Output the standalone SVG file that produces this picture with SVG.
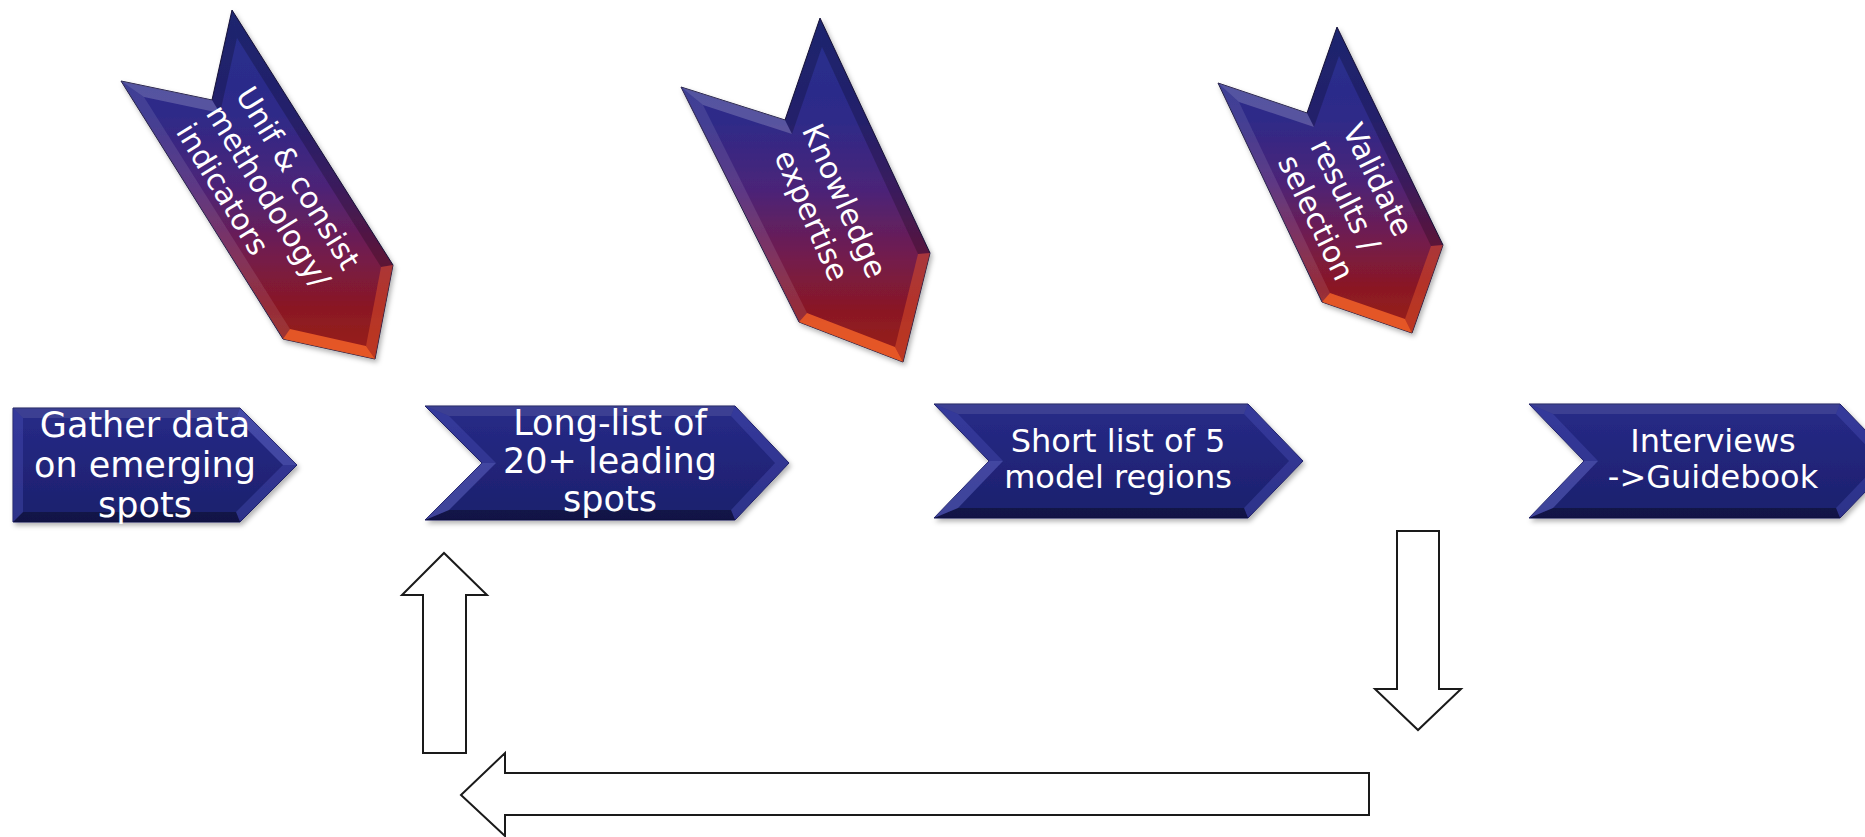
<svg xmlns="http://www.w3.org/2000/svg" width="1865" height="837" viewBox="0 0 1865 837">
  <defs>
    <linearGradient id="diag" x1="0" y1="0" x2="0" y2="1">
      <stop offset="0" stop-color="#26308E"/>
      <stop offset="0.3" stop-color="#2E2A88"/>
      <stop offset="0.5" stop-color="#4B2478"/>
      <stop offset="0.7" stop-color="#731C4C"/>
      <stop offset="0.85" stop-color="#8A1824"/>
      <stop offset="1" stop-color="#9A2018"/>
    </linearGradient>
    <linearGradient id="navy" x1="0" y1="0" x2="0" y2="1">
      <stop offset="0" stop-color="#272B88"/>
      <stop offset="1" stop-color="#1C1F6C"/>
    </linearGradient>
    <filter id="sh" x="-10%" y="-10%" width="130%" height="130%">
      <feDropShadow dx="2" dy="3" stdDeviation="2.5" flood-color="#000" flood-opacity="0.3"/>
    </filter>
  </defs>
  <style>
    .dg { fill: url(#diag); stroke: #1a1440; stroke-width: 1; stroke-linejoin: round; }
    .hz { fill: url(#navy); stroke: #15175a; stroke-width: 1; stroke-linejoin: round; }
    .lt { fill: #ffffff; fill-opacity: 0.2; }
    .lt2 { fill: #ffffff; fill-opacity: 0.1; }
    .dk { fill: #000000; fill-opacity: 0.22; }
    .dk2 { fill: #000000; fill-opacity: 0.35; }
    .or1 { fill: #FF6A2A; fill-opacity: 0.75; }
    .or2 { fill: #E0502A; fill-opacity: 0.5; }
    .hl { fill: #6A70D0; fill-opacity: 0.45; }
    .hl2 { fill: #5055C0; fill-opacity: 0.35; }
    .t { font-family: "DejaVu Sans", Verdana, sans-serif; fill: #ffffff; }
    .blk { fill: #ffffff; stroke: #1a1a1a; stroke-width: 2; stroke-linejoin: miter; }
  </style>
  <rect width="1865" height="837" fill="#ffffff"/>

  <!-- Diagonal chevron 1 -->
  <g id="chev-unif">
    <g filter="url(#sh)">
      <polygon class="dg" points="232,10 393,265 375,359 283,339 121,81 212,100"/>
    </g>
    <polygon class="dk" points="232,10 393,265 381,267 237,38"/>
    <polygon class="or2" points="393,265 375,359 366,346 381,267"/>
    <polygon class="or1" points="375,359 283,339 290,329 366,346"/>
    <polygon class="lt2" points="283,339 121,81 144,97 290,329"/>
    <polygon class="lt" points="121,81 212,100 220,113 144,97"/>
    <polygon class="dk" points="212,100 232,10 237,38 220,113"/>
    <g class="t" font-size="30" transform="translate(235,95) rotate(58.5)">
      <text x="0" y="0">Unif &amp; consist</text>
      <text x="0" y="35">methodology/</text>
      <text x="0" y="70">indicators</text>
    </g>
  </g>

  <!-- Diagonal chevron 2 -->
  <g id="chev-knowledge">
    <g filter="url(#sh)">
      <polygon class="dg" points="820,18 930,253 903,362 799,322 681,87 785,120"/>
    </g>
    <polygon class="dk" points="820,18 930,253 918,254 822,47"/>
    <polygon class="or2" points="930,253 903,362 895,347 918,254"/>
    <polygon class="or1" points="903,362 799,322 807,313 895,347"/>
    <polygon class="lt2" points="799,322 681,87 703,105 807,313"/>
    <polygon class="lt" points="681,87 785,120 792,134 703,105"/>
    <polygon class="dk" points="785,120 820,18 822,47 792,134"/>
    <g class="t" font-size="30" text-anchor="middle" transform="translate(835,205) rotate(66)">
      <text x="0" y="0">Knowledge</text>
      <text x="0" y="36">expertise</text>
    </g>
  </g>

  <!-- Diagonal chevron 3 -->
  <g id="chev-validate">
    <g filter="url(#sh)">
      <polygon class="dg" points="1337,27 1443,245 1412,333 1322,302 1218,83 1307,113"/>
    </g>
    <polygon class="dk" points="1337,27 1443,245 1431,246 1339,56"/>
    <polygon class="or2" points="1443,245 1412,333 1405,319 1431,246"/>
    <polygon class="or1" points="1412,333 1322,302 1330,293 1405,319"/>
    <polygon class="lt2" points="1322,302 1218,83 1239,102 1330,293"/>
    <polygon class="lt" points="1218,83 1307,113 1314,127 1239,102"/>
    <polygon class="dk" points="1307,113 1337,27 1339,56 1314,127"/>
    <g class="t" font-size="30" transform="translate(1342,130) rotate(64)">
      <text x="0" y="0">Validate</text>
      <text x="0" y="36">results /</text>
      <text x="0" y="72">selection</text>
    </g>
  </g>

  <!-- Horizontal chevron: Gather -->
  <g id="node-gather">
    <g filter="url(#sh)">
      <polygon class="hz" points="13,408 240,408 297,465 240,522 13,522"/>
    </g>
    <polygon class="lt2" points="13,408 240,408 236,418 23,418"/>
    <polygon class="hl" points="240,408 297,465 283,465 236,418"/>
    <polygon class="hl2" points="297,465 240,522 236,512 283,465"/>
    <polygon class="dk2" points="240,522 13,522 23,512 236,512"/>
    <polygon class="hl2" points="13,522 13,408 23,418 23,512"/>
    <g class="t" font-size="35" text-anchor="middle">
      <text x="145" y="437">Gather data</text>
      <text x="145" y="477">on emerging</text>
      <text x="145" y="517">spots</text>
    </g>
  </g>

  <!-- Horizontal chevron: Long-list -->
  <g id="node-longlist">
    <g filter="url(#sh)">
      <polygon class="hz" points="425,406 735,406 789,463 735,520 425,520 482,463"/>
    </g>
    <polygon class="lt2" points="425,406 735,406 731,416 449,416"/>
    <polygon class="hl2" points="735,406 789,463 775,463 731,416"/>
    <polygon class="hl2" points="789,463 735,520 731,510 775,463"/>
    <polygon class="dk2" points="735,520 425,520 449,510 731,510"/>
    <polygon class="hl" points="425,520 482,463 496,463 449,510"/>
    <polygon class="hl2" points="482,463 425,406 449,416 496,463"/>
    <g class="t" font-size="35" text-anchor="middle">
      <text x="610" y="435">Long-list of</text>
      <text x="610" y="473">20+ leading</text>
      <text x="610" y="511">spots</text>
    </g>
  </g>

  <!-- Horizontal chevron: Short list -->
  <g id="node-shortlist">
    <g filter="url(#sh)">
      <polygon class="hz" points="934,404 1248,404 1303,461 1248,518 934,518 989,461"/>
    </g>
    <polygon class="lt2" points="934,404 1248,404 1244,414 958,414"/>
    <polygon class="hl2" points="1248,404 1303,461 1289,461 1244,414"/>
    <polygon class="hl2" points="1303,461 1248,518 1244,508 1289,461"/>
    <polygon class="dk2" points="1248,518 934,518 958,508 1244,508"/>
    <polygon class="hl" points="934,518 989,461 1003,461 958,508"/>
    <polygon class="hl2" points="989,461 934,404 958,414 1003,461"/>
    <g class="t" font-size="32" text-anchor="middle">
      <text x="1118" y="452">Short list of 5</text>
      <text x="1118" y="488">model regions</text>
    </g>
  </g>

  <!-- Horizontal chevron: Interviews -->
  <g id="node-interviews">
    <g filter="url(#sh)">
      <polygon class="hz" points="1529,404 1840,404 1895,461 1840,518 1529,518 1584,461"/>
    </g>
    <polygon class="lt2" points="1529,404 1840,404 1836,414 1553,414"/>
    <polygon class="hl2" points="1840,404 1895,461 1881,461 1836,414"/>
    <polygon class="hl2" points="1895,461 1840,518 1836,508 1881,461"/>
    <polygon class="dk2" points="1840,518 1529,518 1553,508 1836,508"/>
    <polygon class="hl" points="1529,518 1584,461 1598,461 1553,508"/>
    <polygon class="hl2" points="1584,461 1529,404 1553,414 1598,461"/>
    <g class="t" font-size="32" text-anchor="middle">
      <text x="1713" y="452">Interviews</text>
      <text x="1713" y="488">-&gt;Guidebook</text>
    </g>
  </g>

  <!-- Connectors: hollow block arrows -->
  <g id="connectors">
    <polygon class="blk" points="1397,531 1439,531 1439,689 1461,689 1418,730 1375,689 1397,689"/>
    <polygon class="blk" points="1369,773 1369,815 505,815 505,836 461,795 505,753 505,773"/>
    <polygon class="blk" points="423,753 466,753 466,595 487,595 444,553 402,595 423,595"/>
  </g>
</svg>
